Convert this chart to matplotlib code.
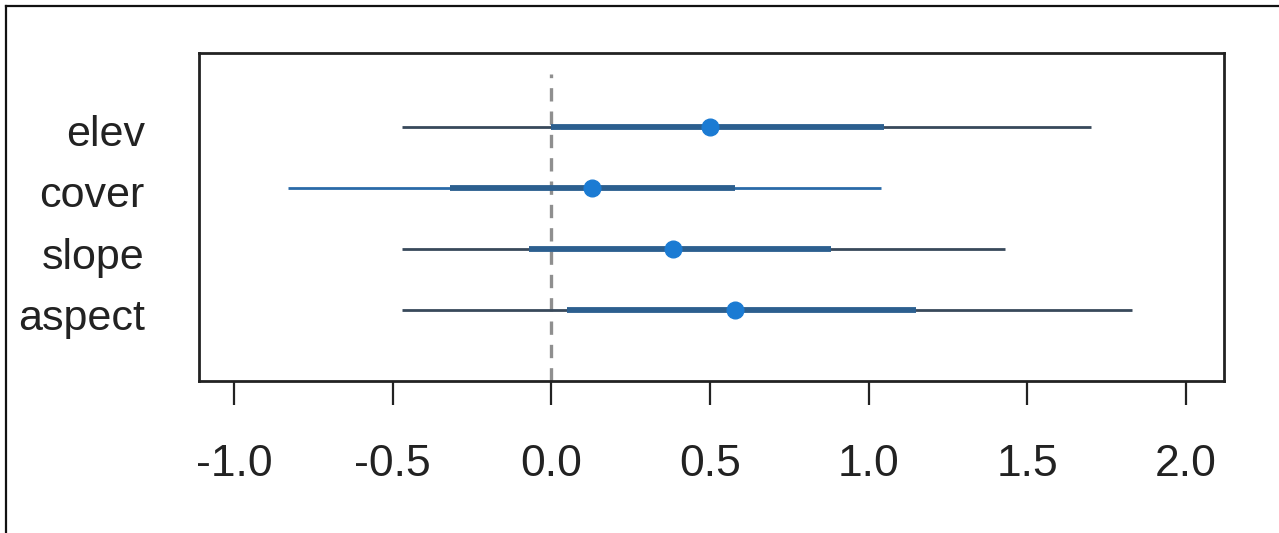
import matplotlib
matplotlib.use("Agg")
import matplotlib.pyplot as plt
from matplotlib.lines import Line2D
from matplotlib.transforms import ScaledTranslation

# coefficient estimates with inner (thick) and outer (thin) intervals
terms = ["elev", "cover", "slope", "aspect"]
est = [0.50, 0.13, 0.385, 0.58]
inner_lo = [0.00, -0.32, -0.07, 0.05]
inner_hi = [1.05, 0.58, 0.88, 1.15]
outer_lo = [-0.47, -0.83, -0.47, -0.47]
outer_hi = [1.70, 1.04, 1.43, 1.83]
xticks = [-1.0, -0.5, 0.0, 0.5, 1.0, 1.5, 2.0]

plt.rcParams['font.family'] = ['Liberation Sans', 'DejaVu Sans']

fig = plt.figure(figsize=(12.79, 5.33), dpi=100)
ax = fig.add_axes([199/1279, 1 - 381/533, (1224-199)/1279, (381-53)/533])

ypos = [4, 3, 2, 1]
thin_cols = ["#38495b", "#2a6aa8", "#38495b", "#38495b"]

ax.vlines(0, -0.15, 4.85, colors="#8f8f8f", linestyles=(0, (4, 3)), lw=2.4, zorder=1)

for i, y in enumerate(ypos):
    ax.hlines(y, outer_lo[i], outer_hi[i], color=thin_cols[i], lw=2.0, zorder=2)
    ax.hlines(y, inner_lo[i], inner_hi[i], color="#2c5f8f", lw=4.2, zorder=3)
    ax.plot(est[i], y, "o", color="#1b7bd3", ms=12, mec="#1b7bd3", zorder=4)

ax.set_xlim(-1.11, 2.12)
ax.set_ylim(-0.15, 5.2)
ax.set_xticks(xticks)
ax.set_xticklabels([f"{v:.1f}" for v in xticks])
ax.set_yticks(ypos)
ax.set_yticklabels(terms)

ax.tick_params(axis="x", length=17, width=1.6, color="#222222", pad=28,
               labelsize=32, labelcolor="#222222")
ax.tick_params(axis="y", length=0, pad=39, labelsize=31, labelcolor="#222222")
# labels sit a few pixels below their rows in the original
for lab in ax.get_yticklabels():
    lab.set_transform(lab.get_transform() + ScaledTranslation(0, -4/100, fig.dpi_scale_trans))
for s in ax.spines.values():
    s.set_linewidth(2.0)
    s.set_color("#222222")

# outer frame of the picture
fig.add_artist(Line2D([6/1279, 6/1279], [0, 1 - 6/533], color="#111111", lw=1.6))
fig.add_artist(Line2D([6/1279, 1], [1 - 6/533, 1 - 6/533], color="#111111", lw=1.6))

fig.savefig("out.png", dpi=100)
